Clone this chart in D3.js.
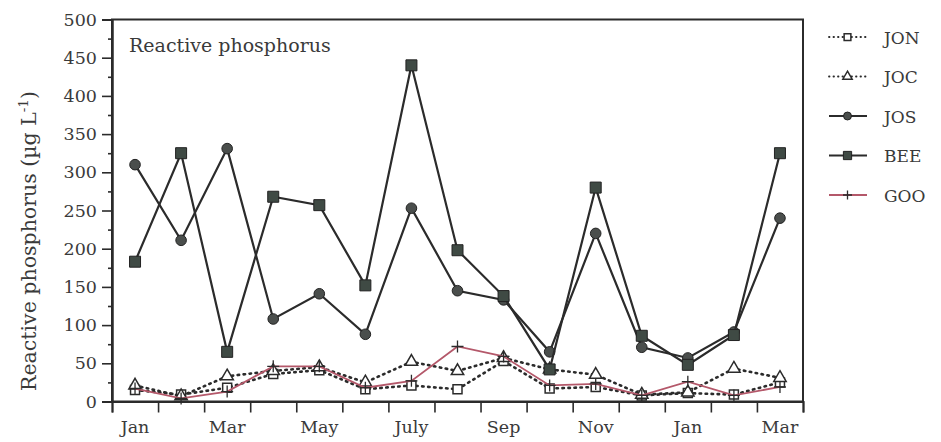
<!DOCTYPE html>
<html>
<head>
<meta charset="utf-8">
<script src="https://cdn.jsdelivr.net/npm/d3@7"></script>
<style>
  body { margin: 0; background: #fff; }
  svg { display: block; }
</style>
</head>
<body>
<div id="chart"></div>
<script>
// Months, Jan of year 1 to Mar of year 2
const months = ["Jan", "Feb", "Mar", "Apr", "May", "Jun", "July", "Aug", "Sep", "Oct", "Nov", "Dec", "Jan", "Feb", "Mar"];
const yTicks = [0, 50, 100, 150, 200, 250, 300, 350, 400, 450, 500];

// Reactive phosphorus (ug/L) per site
const jon = [15, 9, 18, 36, 41, 16, 21, 16, 53, 17, 19, 8, 11, 9, 25];
const joc = [21, 7, 33, 40, 45, 25, 52, 40, 57, 42, 35, 9, 12, 43, 31];
const jos = [310, 211, 331, 108, 141, 88, 253, 145, 133, 65, 220, 71, 57, 91, 240];
const bee = [183, 325, 65, 268, 257, 152, 440, 198, 138, 42, 280, 86, 48, 87, 325];
const goo = [17, 4, 13, 46, 46, 18, 27, 72, 59, 21, 23, 8, 26, 8, 19];

const W = 941, H = 442;
const plotLeft = 112, plotRight = 803, plotTop = 19.5, plotBottom = 401.5;
const serif = "'DejaVu Serif', 'Liberation Serif', serif";
const ink = "#2b2b2b";
const textInk = "#3a3a3a";

const svg = d3.select("#chart")
    .append("svg")
        .attr("width", W)
        .attr("height", H);

// Scales
const xBand = d3.scaleBand()
    .domain(d3.range(months.length))
    .range([plotLeft, plotRight]);

const xEdge = d3.scaleLinear()
    .domain([0, months.length])
    .range([plotLeft, plotRight]);

const yScale = d3.scaleLinear()
    .domain([0, 500])
    .range([plotBottom, plotTop]);

const xPos = i => xBand(i) + xBand.bandwidth() / 2;

// Frame
svg.append("rect")
    .attr("x", plotLeft)
    .attr("y", plotTop)
    .attr("width", plotRight - plotLeft)
    .attr("height", plotBottom - plotTop)
    .attr("fill", "none")
    .attr("stroke", ink)
    .attr("stroke-width", 2);

// Y axis, major and minor ticks
const yMinor = svg.append("g")
    .attr("transform", `translate(${plotLeft},0)`)
    .call(d3.axisLeft(yScale).tickValues(d3.range(25, 500, 50)).tickSize(4).tickFormat(""));

const yAxis = svg.append("g")
    .attr("transform", `translate(${plotLeft},0)`)
    .call(d3.axisLeft(yScale).tickValues(yTicks).tickSize(10).tickPadding(5));

[yMinor, yAxis].forEach(g => {
    g.select(".domain").attr("stroke", ink).attr("stroke-width", 2);
    g.selectAll(".tick line").attr("stroke", ink).attr("stroke-width", 1.6);
});
yAxis.selectAll(".tick text")
    .style("font-family", serif)
    .style("font-size", "17.5px")
    .attr("fill", textInk);

// X axis, ticks on month boundaries
const xTicks = svg.append("g")
    .attr("transform", `translate(0,${plotBottom})`)
    .call(d3.axisBottom(xEdge).tickValues(d3.range(months.length + 1)).tickSize(11).tickFormat(""));
xTicks.select(".domain").attr("stroke", ink).attr("stroke-width", 2);
xTicks.selectAll(".tick line").attr("stroke", ink).attr("stroke-width", 1.6);

// X labels, every other month at band centre
const xLabels = svg.append("g")
    .attr("transform", `translate(0,${plotBottom})`)
    .call(d3.axisBottom(xBand).tickSize(0).tickPadding(19)
        .tickFormat(i => i % 2 === 0 ? months[i] : ""));
xLabels.select(".domain").remove();
xLabels.selectAll(".tick text")
    .style("font-family", serif)
    .style("font-size", "17.5px")
    .attr("fill", textInk);

// Axis title
const yTitle = svg.append("text")
    .attr("transform", "translate(36,241) rotate(-90)")
    .attr("text-anchor", "middle")
    .style("font-family", serif)
    .style("font-size", "20.5px")
    .attr("fill", textInk);
yTitle.append("tspan").text("Reactive phosphorus (µg L");
yTitle.append("tspan").attr("dy", -8).style("font-size", "13.5px").text("-1");
yTitle.append("tspan").attr("dy", 8).text(")");

// Panel title
svg.append("text")
    .attr("x", 129)
    .attr("y", 52)
    .style("font-family", serif)
    .style("font-size", "19px")
    .attr("fill", textInk)
    .text("Reactive phosphorus");

// Series definitions
const series = [
    { name: "JON", values: jon, color: ink, dash: "1.5,4.5", width: 2.6, marker: "square", fill: "#fff", size: 9 },
    { name: "JOC", values: joc, color: ink, dash: "1.5,4.5", width: 2.6, marker: "triangle", fill: "#fff", size: 11 },
    { name: "GOO", values: goo, color: "#b4586a", dash: null, width: 1.8, marker: "plus", fill: "none", size: 12 },
    { name: "JOS", values: jos, color: ink, dash: null, width: 2.2, marker: "circle", fill: "#4a4e4c", size: 10.5 },
    { name: "BEE", values: bee, color: ink, dash: null, width: 2.2, marker: "square", fill: "#3f4a44", size: 11 }
];
const legendOrder = ["JON", "JOC", "JOS", "BEE", "GOO"];

const symbolType = {
    square: d3.symbolSquare,
    triangle: d3.symbolTriangle,
    circle: d3.symbolCircle
};

const drawMarker = (g, s, x, y) => {
    if (s.marker === "plus") {
        const h = s.size / 2;
        g.append("path")
            .attr("d", `M${x - h},${y}H${x + h}M${x},${y - h}V${y + h}`)
            .attr("stroke", ink)
            .attr("stroke-width", 1.3)
            .attr("fill", "none");
        return;
    }
    const k = s.marker === "circle" ? 0.8 : s.marker === "triangle" ? 0.55 : 1;
    g.append("path")
        .attr("transform", `translate(${x},${y})`)
        .attr("d", d3.symbol().type(symbolType[s.marker]).size(s.size * s.size * k)())
        .attr("fill", s.fill)
        .attr("stroke", s.fill === "#fff" ? ink : "#222")
        .attr("stroke-width", s.fill === "#fff" ? 1.5 : 1);
};

const line = d3.line()
    .x((d, i) => xPos(i))
    .y(d => yScale(d));

series.forEach(s => {
    const g = svg.append("g").attr("class", "series-" + s.name);
    g.append("path")
        .datum(s.values)
        .attr("d", line)
        .attr("fill", "none")
        .attr("stroke", s.color)
        .attr("stroke-width", s.width)
        .attr("stroke-linecap", s.dash ? "round" : "butt")
        .attr("stroke-dasharray", s.dash);
    s.values.forEach((v, i) => drawMarker(g, s, xPos(i), yScale(v)));
});

// Legend
const legend = svg.append("g").attr("transform", "translate(828,37)");
legendOrder.forEach((name, k) => {
    const s = series.find(d => d.name === name);
    const row = legend.append("g").attr("transform", `translate(0,${k * 39.5})`);
    row.append("line")
        .attr("x1", 1).attr("x2", 39)
        .attr("y1", 0).attr("y2", 0)
        .attr("stroke", s.color)
        .attr("stroke-width", 1.8)
        .attr("stroke-linecap", s.dash ? "round" : "butt")
        .attr("stroke-dasharray", s.dash ? "0.5,4" : null);
    drawMarker(row, Object.assign({}, s, { size: s.size * 0.75 }), 19.5, 0);
    row.append("text")
        .attr("x", 56)
        .attr("y", 6.5)
        .style("font-family", serif)
        .style("font-size", "17px")
        .attr("fill", textInk)
        .text(name);
});
</script>
</body>
</html>
